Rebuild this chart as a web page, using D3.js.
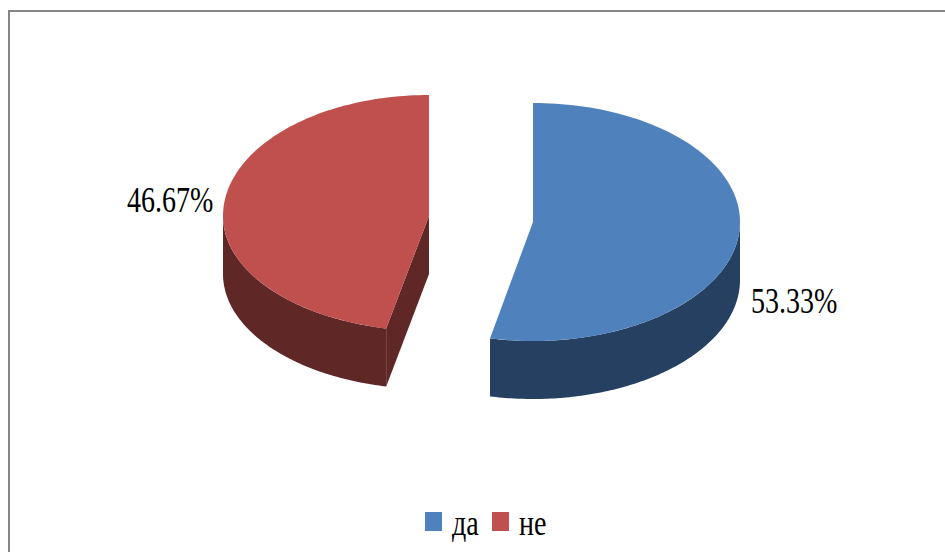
<!DOCTYPE html>
<html><head><meta charset="utf-8">
<script src="https://cdn.jsdelivr.net/npm/d3@7"></script>
<style>html,body{margin:0;padding:0;background:#fff;overflow:hidden}svg{display:block}</style>
</head><body><svg id="c" width="945" height="552"></svg>
<script>
const categories = ["да", "не"];
const values = [53.33, 46.67];
const labels = ["53.33%", "46.67%"];
const topColors = ["#4f81bd", "#c0504d"];
const sideColors = ["#254061", "#5f2725"];

const svg = d3.select("#c");
svg.append("rect").attr("x", 9).attr("y", 11).attr("width", 960).attr("height", 560)
  .attr("fill", "#fff").attr("stroke", "#868686").attr("stroke-width", 2);

const pie = d3.pie().value(d => d).sort(null);
const arcs = pie(values);
const layout = [
  {cx: 533, cy: 222, rx: 207, ryUp: 119, ryDown: 119},
  {cx: 429, cy: 216, rx: 206, ryUp: 121, ryDown: 115}
];
const depth = 58;
const line = d3.line();
const pt = (g, a) => {
  const c = Math.cos(a);
  return [g.cx + g.rx * Math.sin(a), g.cy - (c > 0 ? g.ryUp : g.ryDown) * c];
};
const angles = (a0, a1) => d3.range(0, 121).map(i => a0 + (a1 - a0) * i / 120);

arcs.forEach((d, i) => {
  const g = layout[i];
  const rim = angles(d.startAngle, d.endAngle).map(a => pt(g, a));
  const G = svg.append("g");
  const center = [g.cx, g.cy];
  if (i === 1) {
    const p = pt(g, d.startAngle);
    G.append("path").attr("fill", sideColors[i])
      .attr("d", line([center, p, [p[0], p[1] + depth], [center[0], center[1] + depth]]) + "Z");
  }
  const front = angles(Math.max(d.startAngle, Math.PI / 2), Math.min(d.endAngle, 3 * Math.PI / 2)).map(a => pt(g, a));
  const wall = front.concat(front.slice().reverse().map(p => [p[0], p[1] + depth]));
  G.append("path").attr("fill", sideColors[i]).attr("d", line(wall) + "Z");
  G.append("path").attr("fill", topColors[i]).attr("d", line([center].concat(rim)) + "Z");
});

const text = (x, y, s) => svg.append("text")
  .attr("transform", `translate(${x},${y}) scale(0.8,1)`)
  .attr("font-family", "'Liberation Serif'").attr("font-size", 35).attr("fill", "#000").text(s);
text(751, 313, labels[0]);
text(127, 212, labels[1]);

const legendX = [425, 492], legendTextX = [452, 519];
categories.forEach((c, i) => {
  svg.append("rect").attr("x", legendX[i]).attr("y", 512).attr("width", 17).attr("height", 19).attr("fill", topColors[i]);
  text(legendTextX[i], 535, c);
});
</script></body></html>
